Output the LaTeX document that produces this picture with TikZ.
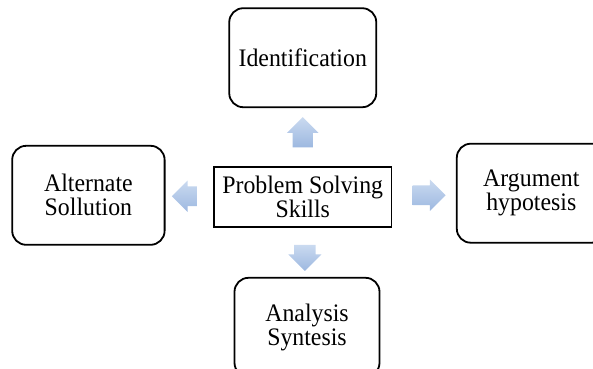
\documentclass[tikz,border=0pt]{standalone}
\usepackage{fontspec}
\setmainfont[FakeStretch=0.945]{Liberation Serif}
\usetikzlibrary{positioning,calc,shapes.arrows}
\definecolor{arrtop}{HTML}{CADAF0}
\definecolor{arrbot}{HTML}{9DB8E0}

\begin{document}
\begin{tikzpicture}[
        every node/.style = {font=\fontsize{25.2}{24}\selectfont,align=center},
        skillbox/.style = {draw,rounded corners=14pt,line width=1.8pt,minimum width=147pt,minimum height=99pt},
        corebox/.style = {draw,line width=1.8pt,minimum width=177.5pt,minimum height=60pt,inner sep=0pt},
        blockarrow/.style = {single arrow,draw=none,inner sep=0pt,
            single arrow head extend=5.75pt,single arrow head indent=0pt,
            top color=arrtop,bottom color=arrbot},
        arrowv/.style = {blockarrow,inner xsep=10pt},
        arrowh/.style = {blockarrow,inner ysep=9.7pt},
        ]
        \useasboundingbox (0,0) rectangle (593pt,-368pt);
        \clip (0,0) rectangle (593pt,-368pt);
        \node[corebox] (skills) at (302.75pt,-197.3pt) {Problem Solving\\Skills};
        \node[skillbox] (ident) [above = 58.3pt of skills] {Identification};
        \node[skillbox,minimum width=152.4pt,yshift=2pt] (alter) [left = 47.6pt of skills] {Alternate\\Sollution};
        \node[skillbox,minimum width=149pt,yshift=4.1pt] (argum) [right = 63.5pt of skills] {Argument\\hypotesis};
        \node[skillbox,minimum width=145pt,xshift=4.25pt] (analys) [below = 48.7pt of skills] {Analysis\\Syntesis};
        % block arrows between the centre and the four boxes
        \node[arrowv,shape border rotate=90,minimum height=30.3pt] (arr-up) at ($(skills.north)!.5!(ident.south)$) {};
        \node[arrowv,shape border rotate=270,minimum height=26pt,inner xsep=10.5pt] (arr-down) at ($(skills.south)!.5!(analys.north)$) {};
        \node[arrowh,shape border rotate=180,minimum height=25pt] (arr-left) at ($(skills.west)!.5!(alter.east)$) {};
        \node[arrowh,minimum height=33pt] (arr-right) at ($(skills.east)!.5!(argum.west)$) {};
    \end{tikzpicture}
\end{document}
